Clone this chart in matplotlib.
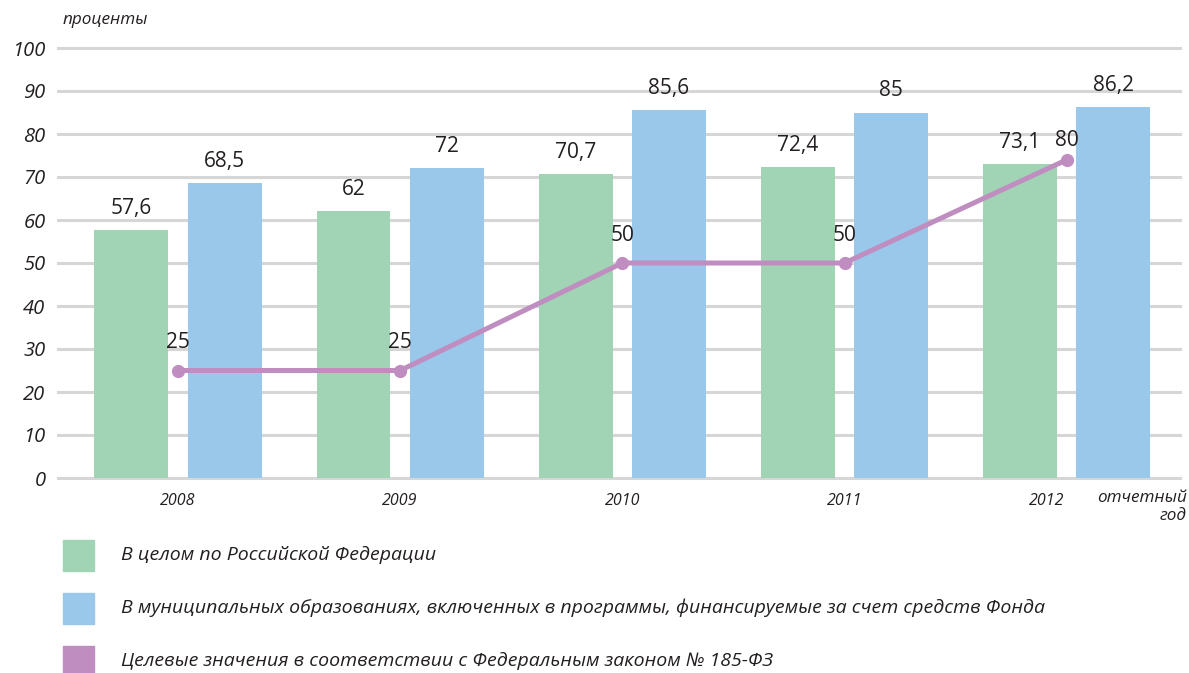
import matplotlib.pyplot as plt
from matplotlib.patches import Rectangle
import numpy as np

years = ["2008", "2009", "2010", "2011", "2012"]
rf_values = [57.6, 62, 70.7, 72.4, 73.1]
mun_values = [68.5, 72, 85.6, 85, 86.2]
# точки линии как нарисованы на картинке; подписи — как указаны
target_values = [25, 25, 50, 50, 74]
target_labels = ["25", "25", "50", "50", "80"]
yticks = [0, 10, 20, 30, 40, 50, 60, 70, 80, 90, 100]
legend_labels = [
    "В целом по Российской Федерации",
    "В муниципальных образованиях, включенных в программы, финансируемые за счет средств Фонда",
    "Целевые значения в соответствии с Федеральным законом № 185-ФЗ",
]

green = "#a0d4b5"
blue = "#99c8eb"
purple = "#c08dc0"
font = "Open Sans"

plt.rcParams["font.family"] = [font, "DejaVu Sans"]

fig = plt.figure(figsize=(11.89, 6.73), dpi=100)
ax = fig.add_axes([58 / 1189, 195 / 673, 1122 / 1189, 430 / 673])

x = np.arange(len(years))
w = 0.333
off = 0.21
b1 = ax.bar(x - off, rf_values, w, color=green, zorder=2)
b2 = ax.bar(x + off, mun_values, w, color=blue, zorder=2)
ax.bar_label(b1, labels=[str(v).replace(".", ",") for v in rf_values],
             padding=8, fontsize=15, color="#231f20")
ax.bar_label(b2, labels=[str(v).replace(".", ",") for v in mun_values],
             padding=8, fontsize=15, color="#231f20")

ax.plot(x, target_values, color=purple, lw=3.6, marker="o", ms=8.5, zorder=3,
        solid_capstyle="round")
for xi, v, lab in zip(x, target_values, target_labels):
    dy = 14 if lab == "80" else 20
    ax.annotate(lab, (xi, v), xytext=(0, dy), textcoords="offset points",
                ha="center", va="center", fontsize=15, color="#231f20")

ax.set_xlim(-0.54, 4.51)
ax.set_ylim(0, 100)
ax.set_yticks(yticks)
ax.set_yticklabels([str(t) for t in yticks], fontsize=14.5, style="italic",
                   color="#231f20")
# подпись 2012 сдвинута влево, чтобы освободить место для "отчетный год"
tick_pos = x.astype(float)
tick_pos[-1] -= 0.09
ax.set_xticks(tick_pos)
ax.set_xticklabels(years, fontsize=11.5, style="italic", color="#231f20")
ax.tick_params(axis="y", length=0, pad=9)
ax.tick_params(axis="x", length=0, pad=11)
ax.grid(axis="y", color="#d6d6d6", lw=2.2, zorder=0)
ax.set_axisbelow(True)
for s in ax.spines.values():
    s.set_visible(False)
for line in ax.get_ygridlines():
    line.set_clip_on(False)

fig.text(105 / 1189, 1 - 20 / 673, "проценты", ha="center", va="center",
         fontsize=12.3, style="italic", color="#231f20")
fig.text(1187 / 1189, 1 - 498 / 673, "отчетный", ha="right", va="center",
         fontsize=12.3, style="italic", color="#231f20")
fig.text(1187 / 1189, 1 - 516 / 673, "год", ha="right", va="center",
         fontsize=12.3, style="italic", color="#231f20")

# легенда
for i, (lab, c) in enumerate(zip(legend_labels, [green, blue, purple])):
    yc = 555 + i * 53
    fig.patches.append(Rectangle((63 / 1189, 1 - (yc + 15.5) / 673), 31 / 1189, 31 / 673,
                                 transform=fig.transFigure, color=c, figure=fig))
    fig.text(121 / 1189, 1 - yc / 673, lab, ha="left", va="center",
             fontsize=14, style="italic", color="#231f20")

fig.savefig("out.png", dpi=100)
